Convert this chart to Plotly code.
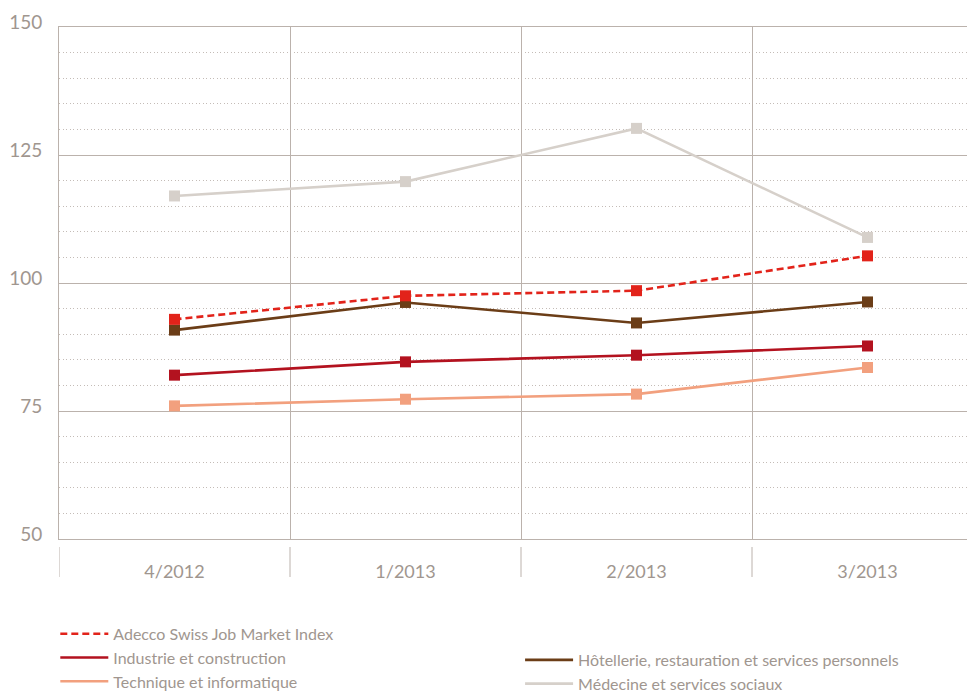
import plotly.graph_objects as go

quarters = ["4/2012", "1/2013", "2/2013", "3/2013"]
adecco = [92.9, 97.5, 98.5, 105.3]
industrie = [82.0, 84.6, 85.9, 87.7]
hotellerie = [90.8, 96.2, 92.2, 96.3]
technique = [76.0, 77.3, 78.3, 83.5]
medecine = [117.0, 119.8, 130.2, 108.9]
y_ticks = [50, 75, 100, 125, 150]

GRID = "#bbb2ac"
TEXT = "#a0968f"
FONT = "Lato"
LEGFONT = "Lato"

series = [
    ("Adecco Swiss Job Market Index", adecco, "#e2231a", "7px,4px", "legend"),
    ("Industrie et construction", industrie, "#b3121f", "solid", "legend"),
    ("Technique et informatique", technique, "#f2a07e", "solid", "legend"),
    ("Hôtellerie, restauration et services personnels", hotellerie, "#6b3d17", "solid", "legend2"),
    ("Médecine et services sociaux", medecine, "#d6d0ca", "solid", "legend2"),
]

fig = go.Figure()
draw_order = [4, 2, 1, 3, 0]
for i in draw_order:
    name, vals, col, dash, leg = series[i]
    fig.add_trace(go.Scatter(
        x=quarters, y=vals, name=name, mode="lines",
        line=dict(color=col, width=2.6, dash=dash),
        legend=leg, legendrank=i, legendgroup=name,
    ))
    fig.add_trace(go.Scatter(
        x=quarters, y=vals, name=name, mode="markers",
        marker=dict(symbol="square", size=11, color=col),
        showlegend=False, legendgroup=name, hoverinfo="skip",
    ))

for k in range(len(quarters)):
    fig.add_shape(type="line", xref="x", yref="paper",
                  x0=k - 0.5, x1=k - 0.5, y0=-0.0156, y1=-0.0742,
                  line=dict(color=GRID, width=1))

fig.update_layout(
    width=975, height=691,
    margin=dict(l=51, r=0, t=19, b=160, autoexpand=False),
    plot_bgcolor="white", paper_bgcolor="white",
    showlegend=True,
    font=dict(family=FONT, color=TEXT),
    xaxis=dict(
        type="category", range=[-0.5, 3.5],
        tickson="boundaries", showgrid=True, gridcolor=GRID, gridwidth=1,
        ticks="", showline=True, linecolor=GRID, linewidth=1, mirror=True,
        tickfont=dict(family=FONT, size=18, color=TEXT),
        ticklabelstandoff=16, zeroline=False,
    ),
    yaxis=dict(
        range=[50, 150], tickvals=y_ticks, ticktext=[str(v) for v in y_ticks],
        showgrid=True, gridcolor=GRID, gridwidth=1,
        minor=dict(dtick=5, showgrid=True, gridcolor="#c4bcb7", griddash="1px,2.5px", gridwidth=1),
        showline=True, linecolor=GRID, linewidth=1, zeroline=False, ticks="",
        tickfont=dict(family=FONT, size=19, color=TEXT),
        ticklabelstandoff=12, ticklabelshift=-5,
    ),
    legend=dict(
        x=-0.004, y=-0.152, xanchor="left", yanchor="top", orientation="v",
        font=dict(family=LEGFONT, size=16, color=TEXT),
        tracegroupgap=13, bgcolor="rgba(0,0,0,0)", traceorder="normal",
        itemwidth=48,
    ),
    legend2=dict(
        x=0.499, y=-0.203, xanchor="left", yanchor="top", orientation="v",
        font=dict(family=LEGFONT, size=16, color=TEXT),
        tracegroupgap=13, bgcolor="rgba(0,0,0,0)", traceorder="normal",
        itemwidth=48,
    ),
)

fig.write_html("out.html")
